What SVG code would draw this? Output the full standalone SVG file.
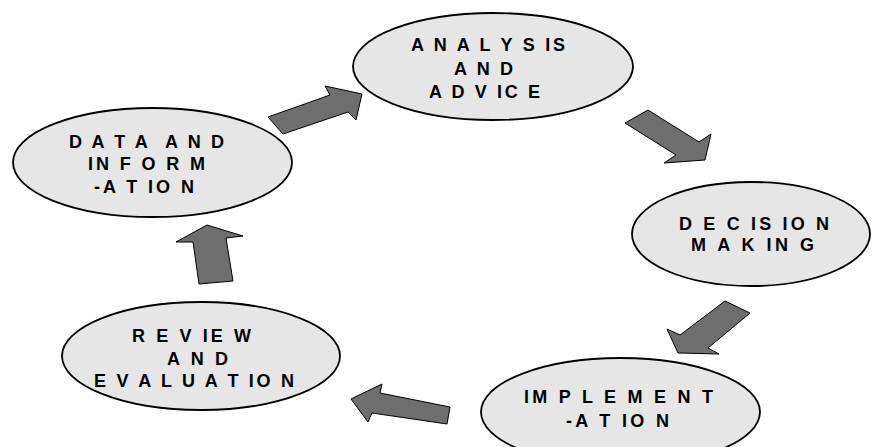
<svg xmlns="http://www.w3.org/2000/svg" width="872" height="447" viewBox="0 0 872 447">
<style>
.node ellipse{fill:#e6e6e6;stroke:#000;stroke-width:1.8}
.node text{font-family:"Liberation Sans",Arial,sans-serif;font-weight:bold;font-size:18px;fill:#000}
.arrow{fill:#6e6e6e;stroke:#000;stroke-width:1;stroke-linejoin:miter}
</style>
<rect width="872" height="447" fill="#fff"/>
<g id="connectors">
<polygon class="arrow" points="268,117 330,95 325,86 362,94 356,120 348,112 283,134"/>
<polygon class="arrow" points="625,123 648,110 699,142 711,134 705,160 664,163 676,155"/>
<polygon class="arrow" points="725,301 750,313 708,348 719,354 678,353 667,329 680,335"/>
<polygon class="arrow" points="450,407 447,424 372,413 368,422 351,399 382,384 380,393"/>
<polygon class="arrow" points="207,225 243,236 226,238 233,281 199,284 193,242 176,242"/>
</g>
<g id="node-analysis" class="node">
<ellipse cx="493" cy="66.5" rx="140" ry="53.5"/>
<text x="411" y="51" textLength="154" lengthAdjust="spacing">A N A L Y S IS</text>
<text x="454" y="74.5" textLength="59" lengthAdjust="spacing">A N D</text>
<text x="429" y="98" textLength="111" lengthAdjust="spacing">A D V IC E</text>
</g>
<g id="node-data" class="node">
<ellipse cx="152.5" cy="162.5" rx="139.5" ry="54.5"/>
<text x="69" y="148" textLength="155" lengthAdjust="spacing">D A T A&#160; A N D</text>
<text x="88" y="170" textLength="117" lengthAdjust="spacing">IN F O R M</text>
<text x="94" y="192.5" textLength="100" lengthAdjust="spacing">-A T IO N</text>
</g>
<g id="node-decision" class="node">
<ellipse cx="751" cy="234" rx="119" ry="52"/>
<text x="679" y="230" textLength="150" lengthAdjust="spacing">D E C IS IO N</text>
<text x="691" y="251" textLength="123" lengthAdjust="spacing">M A K IN G</text>
</g>
<g id="node-implementation" class="node">
<ellipse cx="620.5" cy="412" rx="139.5" ry="54"/>
<text x="524" y="403" textLength="189" lengthAdjust="spacing">IM P L E M E N T</text>
<text x="566" y="427" textLength="103" lengthAdjust="spacing">-A T IO N</text>
</g>
<g id="node-review" class="node">
<ellipse cx="201" cy="356" rx="139" ry="54"/>
<text x="132" y="342" textLength="119" lengthAdjust="spacing">R E V IE W</text>
<text x="167" y="365" textLength="61" lengthAdjust="spacing">A N D</text>
<text x="94" y="387" textLength="200" lengthAdjust="spacing">E V A L U A T IO N</text>
</g>
</svg>
